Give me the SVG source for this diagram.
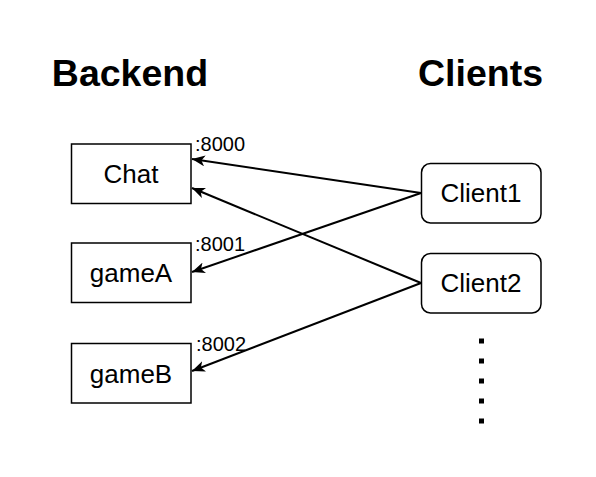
<svg xmlns="http://www.w3.org/2000/svg" width="596" height="477" viewBox="0 0 596 477">
  <style>
    .box { fill: #ffffff; stroke: #000000; stroke-width: 1.5; }
    .lbl { font-family: "Liberation Sans", Arial, sans-serif; font-size: 26px; fill: #000000; text-anchor: middle; }
    .hdr { font-family: "Liberation Sans", Arial, sans-serif; font-size: 37.5px; font-weight: bold; fill: #000000; text-anchor: middle; }
    .port { font-family: "Liberation Sans", Arial, sans-serif; font-size: 20px; fill: #000000; }
    .edge { fill: none; stroke: #000000; stroke-width: 2; }
  </style>
  <defs>
    <marker id="arr" viewBox="0 0 13 11" refX="13" refY="5.5" markerWidth="13" markerHeight="11" markerUnits="userSpaceOnUse" orient="auto">
      <path d="M0,0 L13,5.5 L0,11 L3.5,5.5 Z" fill="#000000"/>
    </marker>
  </defs>
  <rect width="596" height="477" fill="#ffffff"/>

  <text id="hdr-backend" class="hdr" x="130" y="86">Backend</text>
  <text id="hdr-clients" class="hdr" x="480.5" y="86">Clients</text>

  <g id="connectors">
    <line class="edge" x1="421" y1="193" x2="192" y2="159" marker-end="url(#arr)"/>
    <line class="edge" x1="421" y1="193" x2="192" y2="272" marker-end="url(#arr)"/>
    <line class="edge" x1="421" y1="283" x2="192" y2="188" marker-end="url(#arr)"/>
    <line class="edge" x1="421" y1="283" x2="192" y2="371" marker-end="url(#arr)"/>
  </g>

  <g id="chat">
    <rect class="box" x="71.5" y="144" width="119.5" height="59.5"/>
    <text class="lbl" x="131" y="183">Chat</text>
    <text class="port" x="195" y="151">:8000</text>
  </g>
  <g id="gameA">
    <rect class="box" x="71.5" y="243" width="119.5" height="59.5"/>
    <text class="lbl" x="131" y="282">gameA</text>
    <text class="port" x="195" y="251">:8001</text>
  </g>
  <g id="gameB">
    <rect class="box" x="71.5" y="343.5" width="119.5" height="59.5"/>
    <text class="lbl" x="131" y="383">gameB</text>
    <text class="port" x="196" y="351">:8002</text>
  </g>
  <g id="client1">
    <rect class="box" x="421.5" y="163.5" width="119.5" height="59.5" rx="9" ry="9"/>
    <text class="lbl" x="481" y="202">Client1</text>
  </g>
  <g id="client2">
    <rect class="box" x="421.5" y="253.5" width="119.5" height="59.5" rx="9" ry="9"/>
    <text class="lbl" x="481" y="292">Client2</text>
  </g>
  <g id="ellipsis">
    <line x1="481.5" y1="338.5" x2="481.5" y2="424" stroke="#000000" stroke-width="5" stroke-dasharray="5 15"/>
  </g>
</svg>
